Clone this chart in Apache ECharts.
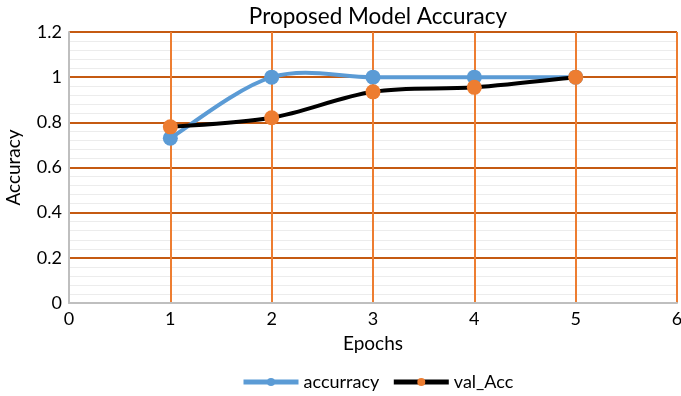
<!DOCTYPE html>
<html><head><meta charset="utf-8">
<script src="https://cdn.jsdelivr.net/npm/echarts@6/dist/echarts.min.js"></script>
<style>html,body{margin:0;padding:0;background:#fff}#c{width:681px;height:396px}</style>
</head><body><div id="c"></div>
<script>
const epochs = [1, 2, 3, 4, 5];
const accuracy = [0.73, 1.0, 1.0, 1.0, 1.0];
const valAcc = [0.78, 0.82, 0.935, 0.955, 1.0];
const seriesNames = ['accurracy', 'val_Acc'];

const font = 'Lato, "Open Sans", sans-serif';
const BLUE = '#5B9BD5', ORANGE = '#ED7D31', BLACK = '#000000';

// Excel-style smoothed curve (Bezier with tangent (P[i+1]-P[i-1])/6), computed in pixel space
function curveSeries(name, values, color, z) {
  const data = epochs.map((e, i) => [e, values[i]]);
  return {
    type: 'custom', name: name + '_curve', z: z, silent: true,
    data: data,
    renderItem: function (params, api) {
      const i = params.dataIndex;
      if (i >= data.length - 1) return null;
      const P = data.map(d => api.coord(d));
      const p0 = P[i - 1] || P[i], p1 = P[i], p2 = P[i + 1], p3 = P[i + 2] || P[i + 1];
      return {
        type: 'bezierCurve',
        shape: {
          x1: p1[0], y1: p1[1], x2: p2[0], y2: p2[1],
          cpx1: p1[0] + (p2[0] - p0[0]) / 6, cpy1: p1[1] + (p2[1] - p0[1]) / 6,
          cpx2: p2[0] - (p3[0] - p1[0]) / 6, cpy2: p2[1] - (p3[1] - p1[1]) / 6
        },
        style: {stroke: color, lineWidth: 4, fill: null, lineCap: 'round'}
      };
    }
  };
}

const chart = echarts.init(document.getElementById('c'));
chart.setOption({
  animation: false,
  textStyle: {fontFamily: font},
  title: {text: 'Proposed Model Accuracy', left: 373, top: 0, textAlign: 'center',
    textStyle: {fontFamily: font, fontSize: 22.5, fontWeight: 'normal', color: '#000'}},
  legend: {bottom: 0, left: 236, itemWidth: 55, itemHeight: 10, itemGap: 12,
    textStyle: {fontFamily: font, fontSize: 18, color: '#000'},
    data: [
      {name: seriesNames[0], lineStyle: {color: BLUE, width: 5, opacity: 1}},
      {name: seriesNames[1], lineStyle: {color: BLACK, width: 5, opacity: 1}}
    ]},
  grid: {left: 69, right: 4, top: 32, bottom: 93, containLabel: false, outerBoundsMode: 'none'},
  xAxis: {type: 'value', min: 0, max: 6, interval: 1,
    name: 'Epochs', nameLocation: 'middle', nameGap: 31,
    nameTextStyle: {fontFamily: font, fontSize: 19, color: '#000'},
    axisLine: {show: true, lineStyle: {color: '#bfbfbf', width: 2}},
    axisTick: {show: false},
    axisLabel: {fontFamily: font, fontSize: 18, color: '#000', margin: 7},
    splitLine: {show: true, lineStyle: {color: ORANGE, width: 2}}},
  yAxis: {type: 'value', min: 0, max: 1.2, interval: 0.2,
    name: 'Accuracy', nameLocation: 'middle', nameGap: 46, nameRotate: 90,
    nameTextStyle: {fontFamily: font, fontSize: 19, color: '#000'},
    axisLine: {show: true, lineStyle: {color: '#bfbfbf', width: 2}},
    axisTick: {show: false},
    axisLabel: {fontFamily: font, fontSize: 18, color: '#000', margin: 7},
    minorTick: {show: false, splitNumber: 5},
    minorSplitLine: {show: true, lineStyle: {color: '#ececec', width: 1}},
    splitLine: {show: true, lineStyle: {color: '#C55A11', width: 2}}},
  series: [
    curveSeries(seriesNames[0], accuracy, BLUE, 3),
    {name: seriesNames[0], type: 'line', z: 4,
      data: epochs.map((e, i) => [e, accuracy[i]]),
      symbol: 'circle', symbolSize: 15,
      lineStyle: {color: BLUE, width: 0, opacity: 0},
      itemStyle: {color: BLUE}},
    curveSeries(seriesNames[1], valAcc, BLACK, 5),
    {name: seriesNames[1], type: 'line', z: 6,
      data: epochs.map((e, i) => [e, valAcc[i]]),
      symbol: 'circle', symbolSize: 15,
      lineStyle: {color: BLACK, width: 0, opacity: 0},
      itemStyle: {color: ORANGE}}
  ]
});
</script></body></html>
